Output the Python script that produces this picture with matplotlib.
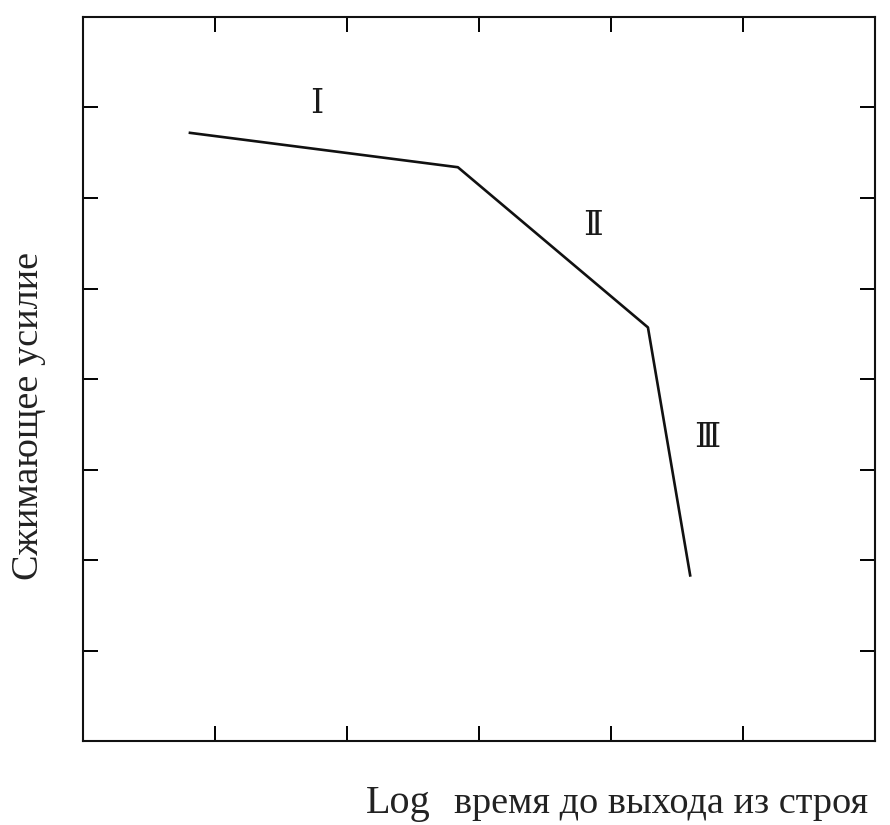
import matplotlib.pyplot as plt

# breakpoints of the piecewise curve (log time, compressive force)
log_time = [0.81, 2.84, 4.28, 4.60]
force = [6.72, 6.34, 4.57, 1.83]

region_names = ['Ⅰ', 'Ⅱ', 'Ⅲ']
region_x = [1.77, 3.86, 4.73]
region_y = [7.03, 5.68, 3.34]

plt.rcParams['font.family'] = ['Liberation Serif', 'DejaVu Serif']

fig = plt.figure(figsize=(8.9, 8.25), dpi=100)
ax = fig.add_axes([0.0933, 0.1018, 0.8898, 0.8776])

ax.plot(log_time, force, color='#111111', linewidth=1.9)
for name, x, y in zip(region_names, region_x, region_y):
    ax.text(x, y, name, fontsize=24, ha='center', va='center', color='#1a1a1a')

ax.set_xlim(0, 6)
ax.set_ylim(0, 8)
ax.set_xticks(range(7))
ax.set_yticks(range(9))
ax.tick_params(direction='in', length=11, width=1.4, top=True, right=True,
               labelbottom=False, labelleft=False)
for s in ax.spines.values():
    s.set_linewidth(1.5)
    s.set_color('#111111')

fig.text(0.032, 0.496, 'Сжимающее усилие', rotation=90, fontsize=27.5,
         ha='center', va='center', color='#222222')
fig.text(0.447, 0.0145, 'Log', fontsize=29, ha='center', va='baseline', color='#222222')
fig.text(0.743, 0.0145, 'время до выхода из строя', fontsize=27.5,
         ha='center', va='baseline', color='#222222')

fig.savefig('out.png', dpi=100)
